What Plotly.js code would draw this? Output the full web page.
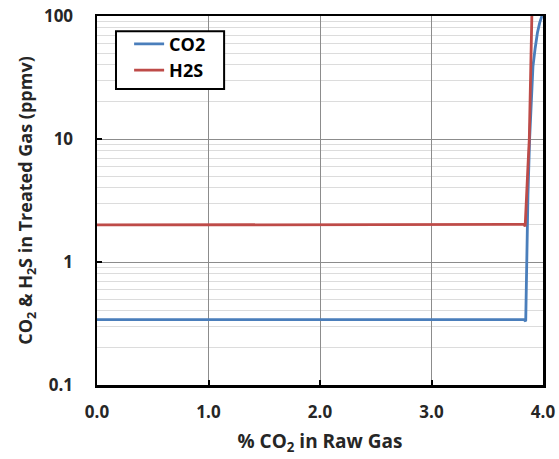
<!DOCTYPE html>
<html><head><meta charset="utf-8">
<script src="https://cdn.plot.ly/plotly-3.0.1.min.js"></script>
<style>html,body{margin:0;padding:0;background:#fff}</style>
</head><body>
<div id="chart" style="width:559px;height:459px"></div>
<script>
// CO2 series
const co2X = [0.0, 0.5, 1.0, 1.5, 2.0, 2.5, 3.0, 3.5, 3.80, 3.83, 3.845, 3.853, 3.865, 3.88, 3.89, 3.91, 3.93, 3.95, 3.97, 3.99];
const co2Y = [0.34, 0.34, 0.34, 0.34, 0.34, 0.34, 0.34, 0.34, 0.34, 0.34, 0.33, 0.9, 3.5, 10, 17, 39, 55, 73, 88, 100];
// H2S series
const h2sX = [0.0, 0.5, 1.0, 1.5, 2.0, 2.5, 2.5, 3.0, 3.5, 3.80, 3.83, 3.84, 3.85, 3.865, 3.877, 3.89, 3.90];
const h2sY = [2.0, 2.0, 2.0, 2.0, 2.0, 2.0, 2.02, 2.02, 2.02, 2.02, 2.02, 1.95, 3.5, 6, 10, 35, 100];
const xTicks = [0, 1, 2, 3, 4];
const xTickText = ['0.0', '1.0', '2.0', '3.0', '4.0'];
const yTicks = [0.1, 1, 10, 100];
const yTickText = ['0.1', '1', '10', '100'];

const F = '"Open Sans", Lato, sans-serif';
const traces = [
  {x: co2X, y: co2Y, name: 'CO2', mode: 'lines', line: {color: '#4A7EBB', width: 2.8}},
  {x: h2sX, y: h2sY, name: 'H2S', mode: 'lines', line: {color: '#BE4B48', width: 2.8}}
];
const layout = {
  width: 559, height: 459,
  margin: {l: 97, r: 16, t: 16, b: 74},
  paper_bgcolor: '#fff', plot_bgcolor: '#fff',
  font: {family: F, size: 17, color: '#262626', weight: 'bold'},
  showlegend: true,
  legend: {x: 0.072, y: 0.974, xanchor: 'left', yanchor: 'top',
    borderwidth: 0, bgcolor: 'rgba(0,0,0,0)',
    font: {family: F, size: 18, color: '#000', weight: 'bold'}, itemwidth: 30},
  shapes: [{type: 'rect', xref: 'paper', yref: 'paper',
    x0: 0.0426, x1: 0.285, y0: 0.802, y1: 0.959,
    line: {color: '#000', width: 2}, fillcolor: '#fff', layer: 'above'}],
  xaxis: {
    range: [0, 4], tickvals: xTicks, ticktext: xTickText,
    showgrid: true, gridcolor: '#8c8c8c', gridwidth: 1,
    showline: true, linecolor: '#000', linewidth: 2.5, mirror: true,
    ticks: 'inside', ticklen: 5, tickwidth: 2, tickcolor: '#000',
    ticklabelstandoff: 10,
    zeroline: false,
    tickfont: {family: F, size: 17, color: '#262626', weight: 'bold'},
    title: {text: '% CO<sub>2</sub> in Raw Gas', standoff: 13,
      font: {family: F, size: 19, color: '#262626', weight: 'bold'}}
  },
  yaxis: {
    type: 'log', range: [-1, 2], tickvals: yTicks, ticktext: yTickText,
    showgrid: true, gridcolor: '#8c8c8c', gridwidth: 1,
    minor: {showgrid: true, gridcolor: '#dcdcdc', gridwidth: 1, dtick: 'D1', ticks: ''},
    showline: true, linecolor: '#000', linewidth: 2.5, mirror: true,
    ticks: 'inside', ticklen: 5, tickwidth: 2, tickcolor: '#000',
    ticklabelstandoff: 18,
    zeroline: false,
    tickfont: {family: F, size: 17, color: '#262626', weight: 'bold'},
    title: {text: 'CO<sub>2</sub> & H<sub>2</sub>S in Treated Gas (ppmv)', standoff: 7,
      font: {family: F, size: 18, color: '#262626', weight: 'bold'}}
  }
};
Plotly.newPlot('chart', traces, layout, {staticPlot: true, displayModeBar: false});
</script>
</body></html>
